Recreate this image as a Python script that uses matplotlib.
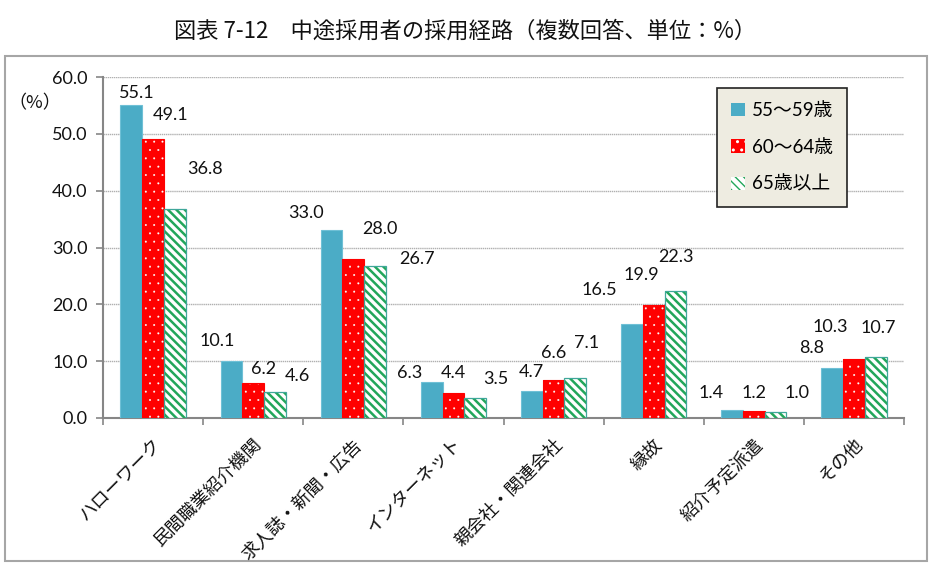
import matplotlib
matplotlib.use("Agg")
import matplotlib.pyplot as plt
from matplotlib.patches import Patch, Rectangle
import numpy as np

plt.rcParams['font.family'] = ['Lato', 'Noto Sans CJK JP', 'DejaVu Sans']

title = "図表 7-12　中途採用者の採用経路（複数回答、単位：%）"
categories = ["ハローワーク", "民間職業紹介機関", "求人誌・新聞・広告", "インターネット",
              "親会社・関連会社", "縁故", "紹介予定派遣", "その他"]
series_names = ["55〜59歳", "60〜64歳", "65歳以上"]
s55_59 = [55.1, 10.1, 33.0, 6.3, 4.7, 16.5, 1.4, 8.8]
s60_64 = [49.1, 6.2, 28.0, 4.4, 6.6, 19.9, 1.2, 10.3]
s65 = [36.8, 4.6, 26.7, 3.5, 7.1, 22.3, 1.0, 10.7]
yticks = [0, 10, 20, 30, 40, 50, 60]

# label placement (layout only): x offset from group centre (category units), y in data units
lab_dx = [[-0.163, 0.17, 0.52], [-0.357, 0.103, 0.437], [-0.47, 0.263, 0.637],
          [-0.44, -0.003, 0.42], [-0.223, 0.003, 0.33], [-0.54, -0.123, 0.227],
          [-0.43, 0.0, 0.43], [-0.42, -0.24, 0.24]]
lab_y = [[57.2, 53.3, 43.8], [13.55, 8.57, 7.39], [36.1, 33.2, 28.0],
         [7.86, 7.86, 6.86], [8.15, 11.4, 13.2], [22.5, 25.2, 28.4],
         [4.35, 4.35, 4.35], [12.3, 16.0, 15.8]]

teal = "#4BACC6"
red = "#FF0000"
green = "#22A65A"
dot_hatch = ".."
stripe_hatch = "\\\\\\\\"

W, H = 941, 572
fig = plt.figure(figsize=(W / 100, H / 100), dpi=100)
# outer frame
fig.patches.append(Rectangle((5 / W, 1 - 561 / H), 922 / W, 505 / H, transform=fig.transFigure,
                             facecolor="none", edgecolor="#A6A6A6", lw=1.5, zorder=-1))
ax = fig.add_axes([103 / W, 1 - 418 / H, 801 / W, 341 / H])
ax.set_facecolor("none")

x = np.arange(len(categories))
bw = 0.217
# series 1
ax.bar(x - bw, s55_59, bw, color=teal, edgecolor="#6FC0D6", lw=0.8, zorder=3)
# series 2 red with white dots
with plt.rc_context({'hatch.linewidth': 0.2}):
    ax.bar(x, s60_64, bw, color=red, edgecolor="white", hatch=dot_hatch, lw=0, zorder=3)
ax.bar(x, s60_64, bw, facecolor="none", edgecolor=red, lw=0.8, zorder=4)
# series 3 white with green stripes
with plt.rc_context({'hatch.linewidth': 1.8}):
    ax.bar(x + bw, s65, bw, color="white", edgecolor=green, hatch=stripe_hatch, lw=0, zorder=3)
ax.bar(x + bw, s65, bw, facecolor="none", edgecolor="#3FA79A", lw=0.9, zorder=4)

for i in range(len(categories)):
    for j, s in enumerate([s55_59, s60_64, s65]):
        ax.text(x[i] + lab_dx[i][j], lab_y[i][j], f"{s[i]:.1f}", ha="center", va="center",
                fontsize=13, color="#111111", zorder=5)

ax.set_xlim(-0.5, len(categories) - 0.5)
ax.set_ylim(0, 60)
ax.set_yticks(yticks)
ax.set_yticklabels([f"{v:.1f}" for v in yticks], fontsize=13, color="#111111")
ax.set_xticks(np.arange(len(categories) + 1) - 0.5, minor=True)
ax.set_xticks(x)
ax.set_xticklabels(categories, rotation=45, ha="right", va="top", rotation_mode="anchor",
                   fontsize=13, color="#111111")
ax.tick_params(axis="x", which="major", length=0, pad=13)
ax.tick_params(axis="x", which="minor", length=5, color="#868686", width=1.2)
ax.tick_params(axis="y", length=5, color="#868686", width=1.2, pad=6)
ax.grid(axis="y", color="#B0B0B0", lw=1.0, ls=(0, (1, 0.5)), zorder=0)
for sp in ["top", "right"]:
    ax.spines[sp].set_visible(False)
for sp in ["left", "bottom"]:
    ax.spines[sp].set_color("#868686")
    ax.spines[sp].set_linewidth(1.5)

fig.text(35 / W, 1 - 103 / H, "（%）", ha="center", va="center", fontsize=13,
         family=["Noto Sans CJK JP"], color="#111111")
fig.text(465 / W, 1 - 31 / H, title, ha="center", va="center", fontsize=16,
         family=["Noto Sans CJK JP"], color="#111111")

with plt.rc_context({'hatch.linewidth': 0.2}):
    h_red = Patch(facecolor=red, edgecolor="white", hatch=dot_hatch, lw=0)
with plt.rc_context({'hatch.linewidth': 1.8}):
    h_green = Patch(facecolor="white", edgecolor=green, hatch=stripe_hatch, lw=0)
handles = [Patch(facecolor=teal, edgecolor=teal, lw=0), h_red, h_green]
leg = ax.legend(handles, series_names, loc="upper left",
                bbox_to_anchor=(717 / W, 1 - 88 / H), bbox_transform=fig.transFigure,
                handlelength=0.75, handleheight=0.75, handletextpad=0.35,
                labelspacing=1.05, borderpad=0.75, borderaxespad=0, fancybox=False, framealpha=1,
                prop={"family": ["Lato", "Noto Sans CJK JP"], "size": 13.5})
leg.get_frame().set_facecolor("#EEECE1")
leg.get_frame().set_edgecolor("#222222")
leg.get_frame().set_linewidth(1.2)
leg.set_zorder(10)

fig.savefig("out.png", dpi=100)
